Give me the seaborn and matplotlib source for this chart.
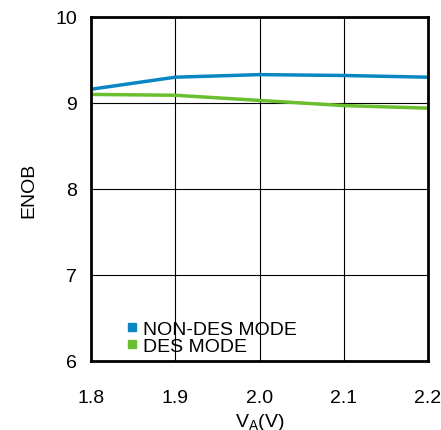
import matplotlib
matplotlib.use("Agg")
import matplotlib.pyplot as plt
import seaborn as sns
import pandas as pd
from matplotlib.lines import Line2D

va = [1.8, 1.9, 2.0, 2.1, 2.2]
non_des = [9.16, 9.30, 9.33, 9.32, 9.30]
des = [9.10, 9.09, 9.03, 8.97, 8.94]
xticks = [1.8, 1.9, 2.0, 2.1, 2.2]
yticks = [6, 7, 8, 9, 10]

sns.set_style("white")
plt.rcParams['font.family'] = ['Liberation Sans', 'DejaVu Sans']
plt.rcParams['text.color'] = 'black'
plt.rcParams['axes.labelcolor'] = 'black'

df = pd.DataFrame({"VA": va * 2, "ENOB": non_des + des,
                   "mode": ["NON-DES MODE"] * 5 + ["DES MODE"] * 5})
colors = {"NON-DES MODE": "#0a87c2", "DES MODE": "#6abf2e"}

fig = plt.figure(figsize=(4.41, 4.31), dpi=100)
ax = fig.add_axes([91/441, 1 - 362/431, (428-91)/441, (362-18)/431])
sns.lineplot(data=df, x="VA", y="ENOB", hue="mode", palette=colors, ax=ax,
             linewidth=2.5, legend=False)
ax.set_xlim(1.8, 2.2)
ax.set_ylim(6, 10)
ax.set_xticks(xticks)
ax.set_xticklabels([f"{t:.1f}" for t in xticks])
ax.set_yticks(yticks)
ax.grid(True, color="black", linewidth=0.8)
ax.set_axisbelow(True)
for s in ax.spines.values():
    s.set_linewidth(2)
    s.set_color("black")
ax.tick_params(axis="both", direction="in", length=0, labelsize=14, colors="black")
ax.tick_params(axis="y", pad=10)
ax.tick_params(axis="x", pad=20)
ax.set_xlabel(r"V$_\mathregular{A}$(V)", fontsize=14, labelpad=4)
ax.set_ylabel("ENOB", fontsize=14, labelpad=13)
handles = [Line2D([], [], marker="s", linestyle="", color=colors[k], markersize=6)
           for k in ["NON-DES MODE", "DES MODE"]]
ax.legend(handles, ["NON-DES MODE", "DES MODE"], loc="lower left",
          bbox_to_anchor=(0.076, -0.006), frameon=False, fontsize=14,
          handletextpad=0.15, labelspacing=0.0, handlelength=0.8,
          borderaxespad=0.0)
fig.savefig("out.png", dpi=100)
